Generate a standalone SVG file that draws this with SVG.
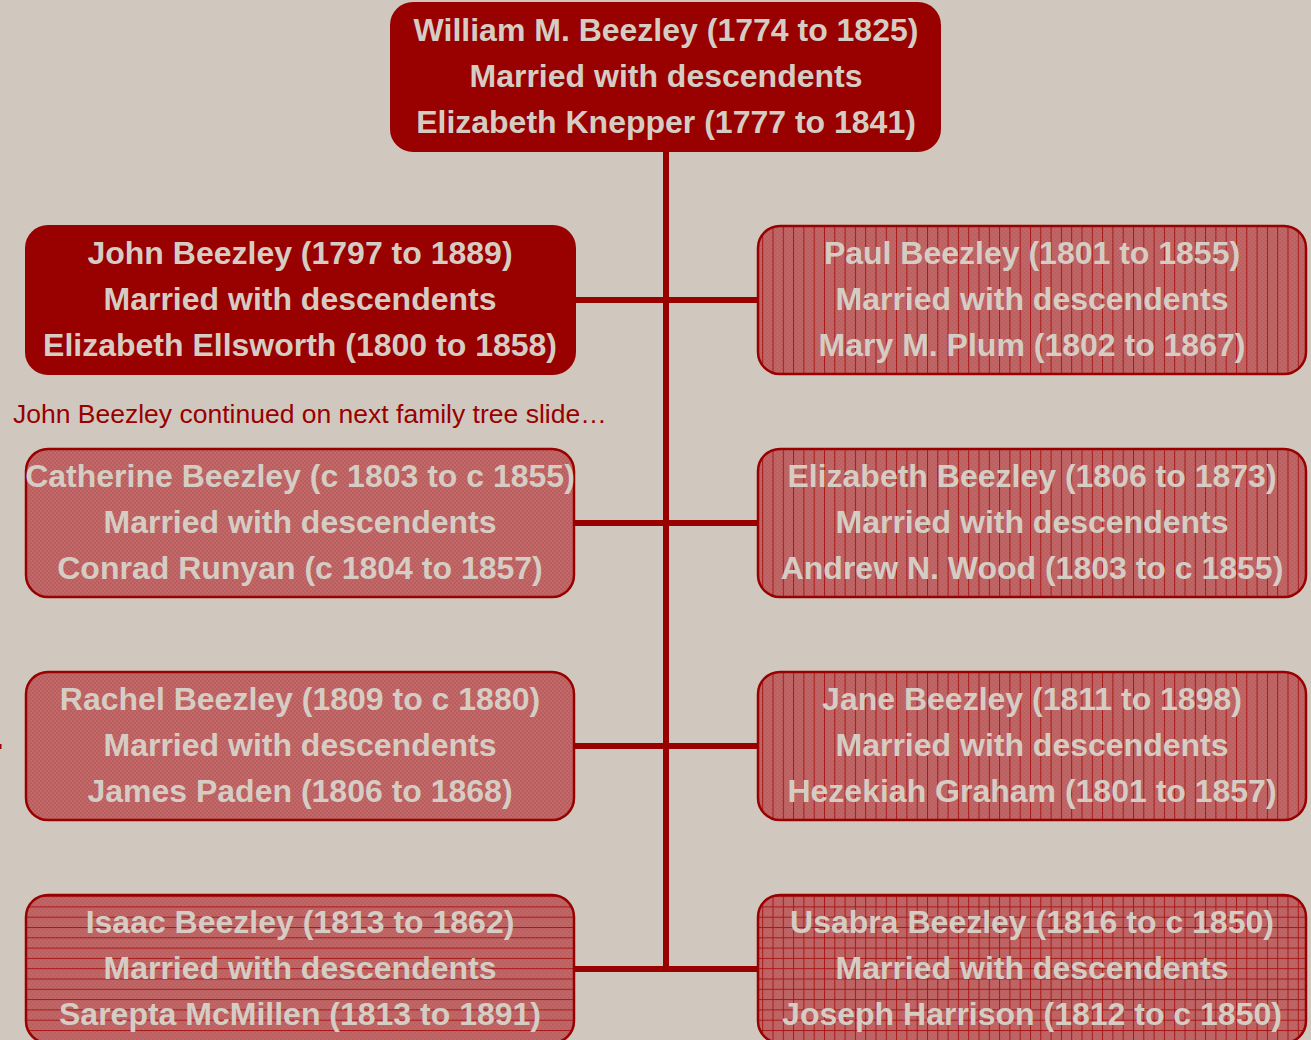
<svg xmlns="http://www.w3.org/2000/svg" width="1311" height="1040" viewBox="0 0 1311 1040">
<defs>
<pattern id="checker" width="4" height="4" patternUnits="userSpaceOnUse">
<rect width="4" height="4" fill="#c36969"/>
<rect width="2" height="2" fill="#b95e5e"/>
<rect x="2" y="2" width="2" height="2" fill="#b95e5e"/>
</pattern>
<pattern id="vlines" width="10.3" height="4" patternUnits="userSpaceOnUse">
<rect width="10.3" height="4" fill="url(#checker)"/>
<rect x="0" width="1" height="4" fill="#a81818"/>
</pattern>
<pattern id="hlines" width="4" height="10.3" patternUnits="userSpaceOnUse">
<rect width="4" height="10.3" fill="url(#checker)"/>
<rect y="0" width="4" height="1" fill="#a81818"/>
</pattern>
<pattern id="grid" width="10.3" height="10.3" patternUnits="userSpaceOnUse">
<rect width="10.3" height="10.3" fill="url(#checker)"/>
<rect x="0" width="1" height="10.3" fill="#a81818"/>
<rect y="0" width="10.3" height="1" fill="#a81818"/>
</pattern>
</defs>
<style>
.solid{fill:#990000;stroke:#990000;stroke-width:2}
.pat{stroke:#990000;stroke-width:2.5}
.t{font-family:"Liberation Sans",Arial,sans-serif;font-weight:bold;font-size:32px;fill:#d5cdc4;text-anchor:middle}
.conn{stroke:#990000;stroke-width:6;fill:none}
.note{font-family:"Liberation Sans",Arial,sans-serif;font-size:26.5px;fill:#990000}
</style>
<rect width="1311" height="1040" fill="#d0c8bf"/>
<g id="connectors">
<line class="conn" x1="666" y1="150" x2="666" y2="972"/>
<line class="conn" x1="575" y1="300" x2="758" y2="300"/>
<line class="conn" x1="575" y1="523" x2="758" y2="523"/>
<line class="conn" x1="575" y1="746" x2="758" y2="746"/>
<line class="conn" x1="575" y1="969" x2="758" y2="969"/>
</g>
<g id="william">
<rect class="solid" x="391" y="3" width="549" height="148" rx="22"/>
<text class="t" x="666" y="41">William M. Beezley (1774 to 1825)</text>
<text class="t" x="666" y="87">Married with descendents</text>
<text class="t" x="666" y="133">Elizabeth Knepper (1777 to 1841)</text>
</g>
<g id="john">
<rect class="solid" x="26" y="226" width="549" height="148" rx="22"/>
<text class="t" x="300" y="264">John Beezley (1797 to 1889)</text>
<text class="t" x="300" y="310">Married with descendents</text>
<text class="t" x="300" y="356">Elizabeth Ellsworth (1800 to 1858)</text>
</g>
<g id="paul">
<rect class="pat" fill="url(#vlines)" x="758" y="226" width="548" height="148" rx="22"/>
<text class="t" x="1032" y="264">Paul Beezley (1801 to 1855)</text>
<text class="t" x="1032" y="310">Married with descendents</text>
<text class="t" x="1032" y="356">Mary M. Plum (1802 to 1867)</text>
</g>
<g id="note">
<text class="note" x="13" y="423">John Beezley continued on next family tree slide…</text>
</g>
<g id="catherine">
<rect class="pat" fill="url(#checker)" x="26" y="449" width="548" height="148" rx="22"/>
<text class="t" x="300" y="487">Catherine Beezley (c 1803 to c 1855)</text>
<text class="t" x="300" y="533">Married with descendents</text>
<text class="t" x="300" y="579">Conrad Runyan (c 1804 to 1857)</text>
</g>
<g id="elizabeth">
<rect class="pat" fill="url(#vlines)" x="758" y="449" width="548" height="148" rx="22"/>
<text class="t" x="1032" y="487">Elizabeth Beezley (1806 to 1873)</text>
<text class="t" x="1032" y="533">Married with descendents</text>
<text class="t" x="1032" y="579">Andrew N. Wood (1803 to c 1855)</text>
</g>
<g id="rachel">
<rect class="pat" fill="url(#checker)" x="26" y="672" width="548" height="148" rx="22"/>
<text class="t" x="300" y="710">Rachel Beezley (1809 to c 1880)</text>
<text class="t" x="300" y="756">Married with descendents</text>
<text class="t" x="300" y="802">James Paden (1806 to 1868)</text>
</g>
<g id="jane">
<rect class="pat" fill="url(#vlines)" x="758" y="672" width="548" height="148" rx="22"/>
<text class="t" x="1032" y="710">Jane Beezley (1811 to 1898)</text>
<text class="t" x="1032" y="756">Married with descendents</text>
<text class="t" x="1032" y="802">Hezekiah Graham (1801 to 1857)</text>
</g>
<g id="isaac">
<rect class="pat" fill="url(#hlines)" x="26" y="895" width="548" height="148" rx="22"/>
<text class="t" x="300" y="933">Isaac Beezley (1813 to 1862)</text>
<text class="t" x="300" y="979">Married with descendents</text>
<text class="t" x="300" y="1025">Sarepta McMillen (1813 to 1891)</text>
</g>
<g id="usabra">
<rect class="pat" fill="url(#grid)" x="758" y="895" width="548" height="148" rx="22"/>
<text class="t" x="1032" y="933">Usabra Beezley (1816 to c 1850)</text>
<text class="t" x="1032" y="979">Married with descendents</text>
<text class="t" x="1032" y="1025">Joseph Harrison (1812 to c 1850)</text>
</g>
<rect x="0" y="744" width="1.5" height="5" fill="#990000"/>
</svg>
